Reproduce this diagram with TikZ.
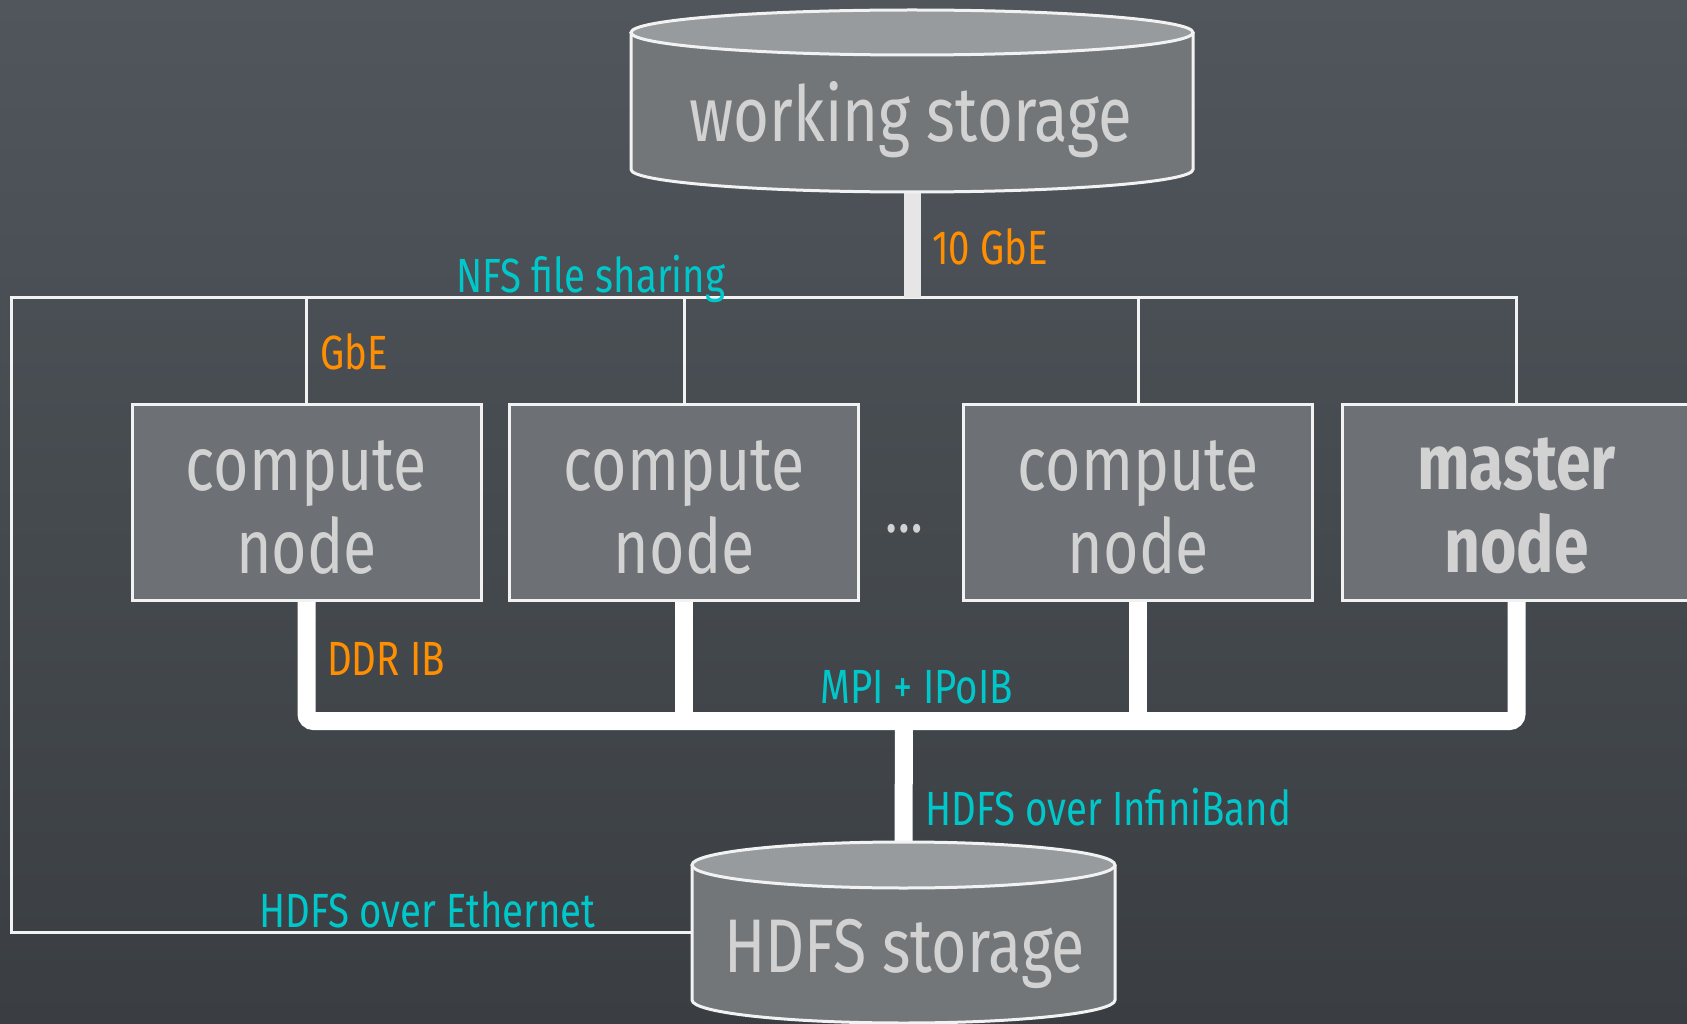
\documentclass[tikz,border=0pt]{standalone}
\usepackage{fontspec}
\setmainfont{Fira Sans}[FakeStretch=0.8]
\usetikzlibrary{calc}
\definecolor{bgtop}{HTML}{50565C}
\definecolor{bgbot}{HTML}{3A3E42}
\definecolor{boxfill}{HTML}{6D7074}
\definecolor{cylbody}{HTML}{737679}
\definecolor{cyltop}{HTML}{989B9E}
\definecolor{txt}{HTML}{D2D2D2}
\definecolor{lblorange}{HTML}{FF8F00}
\definecolor{lblcyan}{HTML}{00C8CA}
\definecolor{wire}{HTML}{F2F2F2}
\definecolor{tenwire}{HTML}{E6E6E6}
\newcommand\drawcyl[3]{%
  \fill[cylbody] ([yshift=-#3]#1.north west) -- ([yshift=#3]#1.south west)
    arc[start angle=180,end angle=360,x radius=#2,y radius=#3]
    -- ([yshift=-#3]#1.north east)
    arc[start angle=0,end angle=180,x radius=#2,y radius=#3] -- cycle;
  \draw[wire,line width=3pt] ([yshift=-#3]#1.north west) -- ([yshift=#3]#1.south west)
    arc[start angle=180,end angle=360,x radius=#2,y radius=#3]
    -- ([yshift=-#3]#1.north east);
  \filldraw[fill=cyltop,draw=wire,line width=3pt] ([yshift=-#3]#1.north)
    ellipse[x radius=#2,y radius=#3];
}
\newcommand\topstrut{\rule{0pt}{60pt}}
\begin{document}
\begin{tikzpicture}[x=1pt,y=-1pt,
  compbox/.style={draw=wire, line width=3pt, fill=boxfill, minimum width=349pt,
    minimum height=196pt, inner sep=0pt, align=center, text=txt,
    font=\fontsize{76}{83}\selectfont},
  cylnode/.style={inner sep=0pt, outer sep=0pt},
  bigtext/.style={text=txt, inner sep=0pt, anchor=base},
  lbl/.style={inner sep=0pt, anchor=base west, font=\fontsize{48}{50}\selectfont},
  orangelbl/.style={lbl, text=lblorange},
  cyanlbl/.style={lbl, text=lblcyan},
  net/.style={draw=wire, line width=3pt},
  ib/.style={draw=white, line width=18pt},
  tengbe/.style={draw=tenwire, line width=17pt}]
\useasboundingbox (0,0) rectangle (1687,1024);
\clip (0,0) rectangle (1687,1024);
\shade[top color=bgtop, bottom color=bgbot] (0,0) rectangle (1687,1024);

% coordinates of the networks
\coordinate (nfsL) at (11,298);
\coordinate (bus) at (904,721);

% storage shapes
\node[cylnode, minimum width=562pt, minimum height=182pt] (ws) at (912,101) {};
\node[cylnode, minimum width=423pt, minimum height=181pt] (hd) at (903.5,932.5) {};

% networks (drawn below boxes)
\draw[net] (hd.west) -| (nfsL) -| (1516.5,403) coordinate (mtop);
\draw[net] (306.5,403) -- (306.5,298);
\draw[net] (684.3,403) -- (684.3,298);
\draw[net] (1138.3,403) -- (1138.3,298);
\draw[tengbe] (ws.south) -- (ws.south |- nfsL);

\draw[ib, rounded corners=7pt] (306.5,601) |- (bus) -| (1516.5,601);
\draw[ib] (684.3,601) -- (684.3,721);
\draw[ib] (1138.3,601) -- (1138.3,721);
\draw[ib] (bus) -- (hd.north);

% cylinders
\drawcyl{ws}{281pt}{22.5pt}
\drawcyl{hd}{211.5pt}{23pt}
\node[bigtext, font=\fontsize{77}{83}\selectfont] (wstext) at (911,142) {working storage};
\node[bigtext, font=\fontsize{76}{80}\selectfont] (hdtext) at (904.5,972) {HDFS storage};

% nodes
\node[compbox] (c1) at (306.5,502) {\topstrut compute\\node};
\node[compbox] (c2) at (684.3,502) {\topstrut compute\\node};
\node[compbox] (c3) at (1138.3,502) {\topstrut compute\\node};
\node[compbox, font=\fontsize{78}{83}\selectfont\bfseries] (m) at (1516.5,502) {\topstrut master\\node};
\node[bigtext, font=\fontsize{64}{66}\selectfont] (dots) at (904,532) {…};

% labels
\node[orangelbl] (l10g) at (932,265) {10 GbE};
\node[cyanlbl] (lnfs) at (456,293) {NFS file sharing};
\node[orangelbl] (lgbe) at (320,370) {GbE};
\node[orangelbl] (lddr) at (327,675) {DDR IB};
\node[cyanlbl] (lmpi) at (820,703) {MPI + IPoIB};
\node[cyanlbl] (lhib) at (925,825) {HDFS over InfiniBand};
\node[cyanlbl] (lheth) at (259,927) {HDFS over Ethernet};
\end{tikzpicture}
\end{document}
